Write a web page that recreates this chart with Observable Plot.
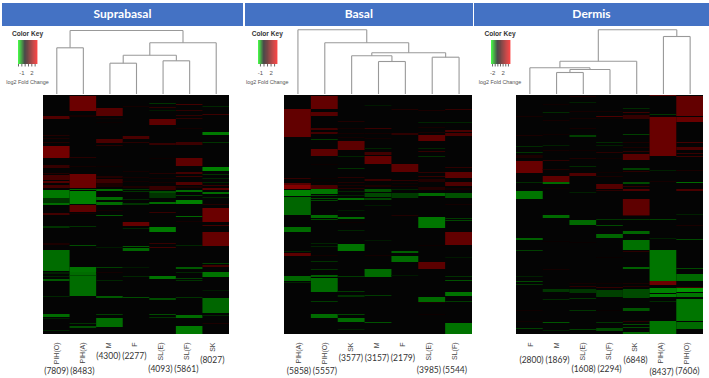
<!DOCTYPE html>
<html><head><meta charset="utf-8">
<script src="https://cdn.jsdelivr.net/npm/d3@7"></script>
<script src="https://cdn.jsdelivr.net/npm/@observablehq/plot@0.6"></script>
<style>
html,body{margin:0;padding:0;background:#fff;width:709px;height:378px;overflow:hidden}
#root{position:relative;width:709px;height:378px}
#root>div,#root>svg,#root>figure{position:absolute;margin:0}
.head{background:#4472c4;color:#fff;font:700 12px Lato,sans-serif;text-align:center;line-height:22px;height:22.5px;top:3px}
.kt{font-family:"Liberation Sans",Arial,sans-serif;text-align:center;white-space:nowrap}
svg{display:block}
</style></head><body><div id="root"></div>
<script>
// ---------- Suprabasal ----------
const supraTitle = "Suprabasal";
const supraCats = ["PIH(O)","PIH(A)","M","F","SL(E)","SL(F)","SK"];
const supraCounts = ["(7809)","(8483)","(4300)","(2277)","(4093)","(5861)","(8027)"];
const supraKeyDomain = [-2,0,3.8];
const supraKeyLabels = [-1,2];
const supraMerges = [[0,1,46.7],[2,3,31.3],[4,5,33.7],[8,9,39.3],[10,6,51.7],[7,11,64]];
const supra0 = [[21,24,1.2],[40,41,.5],[43,44,.4],[47,48,.5],[51,63,1.7],[70,73,.8],[78,79,.5],[80,85,1],[86,88,1.2],[90,93,1],[95,103,-.95],[103,108,-.4],[108,110,-.85],[118,120,1],[131,133,-.4],[148,150,.4],[155,176,-.85],[177,179,-.25],[181,182,-.3],[184,186,-.7],[201,202,-.3],[219,222,-.85],[223,224,-.25],[235,236,-.3]];
const supra1 = [[1,16,1.6],[20,22,.3],[62,63,.6],[71,72,.3],[79,93,1.6],[94,95,-.8],[96,109,-1],[110,117,1.4],[118,119,.3],[131,132,-.4],[150,151,-.6],[172,177,-.9],[177,201,-.85],[180,181,-.6],[228,229,-.4],[231,233,-.6]];
const supra2 = [[13,21,1.3],[23,24,.3],[27,28,.2],[44,48,1.1],[50,51,.6],[71,72,.2],[81,83,.5],[84,88,.9],[88,92,.4],[94,96,-.85],[102,105,-.85],[107,110,-.85],[115,116,.3],[120,121,-.7],[152,153,-.2],[172,173,-.5],[177,178,.3],[185,186,-.3],[201,203,-.7],[219,220,-.5],[223,232,-.85]];
const supra3 = [[11,12,.3],[41,44,1.1],[47,48,.6],[76,77,.3],[82,83,.3],[86,87,.3],[91,93,.4],[94,95,-.4],[96,97,-.4],[104,105,-.3],[108,110,-.4],[127,131,1.5],[133,134,-.3],[151,152,-.7],[153,156,-.8],[172,173,-.2],[181,182,-.3],[202,203,-.6]];
const supra4 = [[8,9,-.4],[12,13,.7],[15,16,-.2],[24,30,1.4],[48,50,.8],[63,64,.2],[78,79,.5],[83,84,.3],[87,88,.3],[91,95,.8],[96,98,-.6],[98,103,-.4],[107,109,-.85],[117,118,.8],[132,137,-.95],[148,149,.8],[152,153,1],[181,184,-.9],[203,205,-.6],[219,220,-.6],[222,223,-.4]];
const supra5 = [[9,10,1],[15,16,.7],[20,21,.7],[23,24,.7],[33,34,.3],[47,50,.9],[63,71,1.4],[77,79,1],[81,82,.9],[87,90,1.2],[91,93,.4],[95,97,-.85],[100,101,-.5],[105,109,-1],[121,122,-.8],[126,127,.3],[150,151,-.3],[172,174,-.7],[177,178,-.3],[183,184,-.5],[185,186,-.4],[202,203,-.4],[220,223,-.85],[231,239,-.95]];
const supra6 = [[11,12,-.3],[19,20,.9],[37,40,-.95],[47,48,-.4],[72,76,-1],[79,80,-.4],[83,84,-.3],[87,88,-.3],[90,91,.8],[93,95,1.3],[97,99,-.85],[102,103,-.3],[109,110,.5],[113,127,1.6],[130,131,1],[137,151,1.5],[168,169,-.5],[170,172,1],[177,182,-.9],[195,196,-.2],[203,218,-.8],[220,221,-.3],[228,229,.4]];

// ---------- Basal ----------
const basalTitle = "Basal";
const basalCats = ["PIH(A)","PIH(O)","SK","M","F","SL(E)","SL(F)"];
const basalCounts = ["(5858)","(5557)","(3577)","(3157)","(2179)","(3985)","(5544)"];
const basalKeyDomain = [-1.55,0,3.9];
const basalKeyLabels = [-1,2];
const basalMerges = [[3,4,33],[2,7,38.7],[5,6,37.3],[8,9,41.7],[1,10,51.7],[0,11,64.7]];
const basal0 = [[14,42,1.5],[83,84,.8],[88,90,1.3],[90,94,2],[95,101,-.8],[102,120,-.62],[132,137,-.65],[156,157,-.22],[158,161,1.4],[181,186,-.62],[187,188,-.22]];
const basal1 = [[1,14,1.5],[17,21,1.3],[33,35,1],[37,39,1],[44,45,-.36],[54,61,1.4],[69,70,.2],[83,84,.2],[87,88,.2],[90,94,1.1],[94,99,-.72],[100,101,-.43],[103,104,-.43],[105,106,-.43],[120,123,-.65],[124,125,-.43],[148,149,-.22],[151,152,-.22],[160,161,.3],[166,167,-.3],[174,175,-.3],[180,182,-.58],[183,197,-.65],[206,207,-.36],[219,223,-.65]];
const basal2 = [[26,27,.5],[33,34,.3],[38,39,.3],[42,43,.3],[46,55,1.4],[61,62,-.22],[73,74,-.3],[82,83,.6],[87,88,.5],[90,91,.4],[93,94,.6],[96,97,-.22],[100,101,-.22],[103,105,-.65],[115,116,-.15],[122,124,-.65],[127,128,.2],[135,136,-.22],[149,156,-.7],[181,182,-.36],[196,197,-.36],[200,202,-.3],[219,220,-.43],[223,227,-.65],[234,235,-.18]];
const basal3 = [[10,11,-.15],[33,34,.9],[38,39,.3],[43,44,.3],[53,54,-.22],[57,60,1],[61,69,1.5],[84,86,.9],[90,92,.4],[94,97,-.5],[98,102,-.43],[103,105,-.43],[110,111,-.15],[145,146,-.15],[160,161,.3],[174,182,-.65],[200,201,-.36],[227,228,-.5]];
const basal4 = [[14,15,.5],[38,40,.7],[69,77,1.4],[85,86,.7],[88,89,.3],[91,92,.3],[94,95,-.22],[98,103,-.36],[120,121,.5],[156,158,-.58],[161,167,-.65],[180,181,-.15]];
const basal5 = [[15,16,.4],[27,28,-.22],[32,33,.3],[37,38,.4],[40,46,1.4],[53,54,-.22],[56,57,.8],[61,62,-.3],[77,78,.7],[81,82,.8],[84,87,.5],[92,95,.5],[98,101,-.65],[122,133,-.72],[150,151,.2],[167,174,1.4],[202,207,-.65],[207,208,.4],[219,220,.2]];
const basal6 = [[14,15,.8],[27,28,-.22],[35,37,1.1],[38,41,1.1],[72,73,.7],[77,83,1.4],[87,91,1.2],[93,95,.3],[98,103,-.5],[109,110,.3],[123,124,-.36],[125,126,-.43],[137,150,1.5],[162,163,-.15],[181,182,-.3],[185,186,-.5],[197,201,-.7],[206,207,-.36],[228,239,-.7]];

// ---------- Dermis ----------
const dermisTitle = "Dermis";
const dermisCats = ["F","M","SL(E)","SL(F)","SK","PIH(A)","PIH(O)"];
const dermisCounts = ["(2800)","(1869)","(1608)","(2294)","(6848)","(8437)","(7606)"];
const dermisKeyDomain = [-2.4,0,4.9];
const dermisKeyLabels = [-2,2];
const dermisMerges = [[1,2,22],[7,3,25],[0,8,26.7],[9,4,33.3],[5,6,58],[10,11,64.7]];
const dermis0 = [[21,22,.4],[40,41,.5],[51,52,-.4],[57,58,-.5],[60,63,.5],[66,78,2],[87,88,-.4],[96,104,-1.1],[143,145,-.9],[155,156,-.6],[181,182,-.3],[186,187,-.7],[189,190,-.5],[215,216,.3],[226,227,.3],[233,234,-.6]];
const dermis1 = [[9,10,.3],[17,18,-.4],[25,26,.4],[39,40,.3],[50,51,-.3],[55,56,.4],[65,66,.9],[74,75,.6],[81,87,1.8],[87,89,-1],[93,94,.3],[120,123,-1],[146,147,.2],[174,175,.4],[194,197,-.5],[204,205,-.4],[227,228,-.8],[235,236,-.3]];
const dermis2 = [[1,2,.5],[7,8,-.3],[16,17,.4],[23,24,.4],[33,34,.4],[40,42,-.6],[55,56,.3],[63,64,.6],[71,72,-.4],[78,81,1.5],[97,98,-.3],[125,130,-1],[147,148,.2],[188,189,.4],[191,192,.8],[194,198,-.5],[203,204,-.5],[215,216,-.5],[234,235,-.6]];
const dermis3 = [[16,17,.4],[21,22,1.5],[23,24,.3],[47,48,-.4],[50,51,-.3],[57,58,.8],[63,64,.3],[77,78,.3],[81,82,.5],[89,94,1.6],[95,96,.8],[124,125,-.5],[130,131,-.7],[139,143,-.95],[162,163,.2],[188,189,.3],[192,193,1],[195,202,-.6],[215,216,.2],[227,228,-.5],[233,236,-.7]];
const dermis4 = [[13,14,-.4],[17,18,1.2],[20,24,1],[39,40,-.6],[47,48,.5],[52,53,.5],[56,57,.9],[59,65,1.7],[73,75,-.6],[76,77,.8],[87,89,-.7],[91,92,.9],[94,96,1.5],[104,120,1.8],[120,121,.9],[124,125,-.5],[136,139,-.95],[145,155,-1.05],[156,157,.8],[172,174,-.9],[188,189,.5],[191,192,.7],[194,203,-.7],[213,216,-.8],[226,227,.8],[229,230,-.7],[232,233,-.7],[237,239,-.95]];
const dermis5 = [[0,1,1.5],[19,20,-.5],[22,61,2],[75,76,-.3],[86,87,.4],[124,125,-.6],[143,144,-.3],[155,186,-1.1],[186,190,2.1],[193,198,-1.2],[199,202,-1.2],[206,207,-.4],[226,239,-1.1]];
const dermis6 = [[1,21,1.9],[22,27,2],[47,48,1.3],[52,55,1.4],[58,59,1.1],[61,62,1.2],[75,76,.5],[87,88,-1],[94,96,1.4],[119,120,-.3],[130,131,.5],[144,145,-.7],[173,174,-.7],[179,186,-1],[192,193,1.2],[193,197,-1.4],[198,202,-1.1],[204,226,-1.1],[227,234,-1]];

const rowCount = 239;
const keyRange = ["#00ff00","#000000","#ff0000"];

// Layout only (not data)
const heatTop = 95, heatH = 239, dendroTop = 20, dendroH = 74, labelTop = 338, labelH = 40;
const panels = [
 {title:supraTitle,cats:supraCats,counts:supraCounts,keyDomain:supraKeyDomain,keyLabels:supraKeyLabels,merges:supraMerges,
  cols:[supra0,supra1,supra2,supra3,supra4,supra5,supra6],head:[2,241],heat:[43.3,229.3],key:[18,37.3],keyC:27.5,countRows:[33,33,18,18,31,31,22],nudge:-2.2},
 {title:basalTitle,cats:basalCats,counts:basalCounts,keyDomain:basalKeyDomain,keyLabels:basalKeyLabels,merges:basalMerges,
  cols:[basal0,basal1,basal2,basal3,basal4,basal5,basal6],head:[244.5,228.5],heat:[283.5,471.5],key:[258,277.3],keyC:267.3,countRows:[33,33,20,20,20,32,32],nudge:-1.6},
 {title:dermisTitle,cats:dermisCats,counts:dermisCounts,keyDomain:dermisKeyDomain,keyLabels:dermisKeyLabels,merges:dermisMerges,
  cols:[dermis0,dermis1,dermis2,dermis3,dermis4,dermis5,dermis6],head:[474,235],heat:[516,703],key:[490.7,510],keyC:500,countRows:[22,22,31,31,22,34,33],nudge:-1}
];

const root = document.getElementById("root");
function place(node,left,top){ node.style.position="absolute"; node.style.left=left+"px"; node.style.top=top+"px"; root.appendChild(node); return node; }
function html(cls,txt,css){ const d=document.createElement("div"); d.className=cls; d.textContent=txt; d.style.cssText=css; root.appendChild(d); return d; }

for (const p of panels) {
  const [hx0,hx1] = p.heat, W = hx1-hx0;
  const colorOpts = {type:"linear",domain:p.keyDomain,range:keyRange};

  // header
  html("head",p.title,`left:${p.head[0]}px;width:${p.head[1]}px`);

  // heatmap
  const stripes = p.cols.flatMap((col,i)=>col.map(([a,b,v])=>({i,a,b,v})));
  const heat = place(Plot.plot({width:W,height:heatH,margin:0,
    style:{background:"#040404"},
    x:{domain:[0,7],range:[0,W],axis:null},
    y:{domain:[0,rowCount],range:[0,heatH],axis:null},
    color:colorOpts,
    marks:[
      Plot.rect(stripes,{x1:"i",x2:d=>d.i+1,y1:"a",y2:"b",fill:"v"})
    ]}),hx0,heatTop);
  heat.style.filter = "blur(0.45px)";

  // dendrogram
  const nodes = p.cats.map((c,i)=>({x:i+.5,h:0}));
  const segs = [];
  for (const [a,b,h] of p.merges) {
    const A=nodes[a],B=nodes[b];
    segs.push({x1:A.x,y1:A.h,x2:A.x,y2:h},{x1:B.x,y1:B.h,x2:B.x,y2:h},{x1:A.x,y1:h,x2:B.x,y2:h});
    nodes.push({x:(A.x+B.x)/2,h});
  }
  place(Plot.plot({width:W,height:dendroH,margin:0,
    x:{domain:[0,7],range:[0,W],axis:null},
    y:{domain:[0,dendroH],range:[dendroH,0],axis:null},
    marks:[Plot.link(segs,{x1:"x1",y1:"y1",x2:"x2",y2:"y2",stroke:"#999",strokeWidth:1.1})]}),hx0,dendroTop);

  // column names and counts
  const rows = p.cats.map((c,i)=>({c,n:p.counts[i],r:p.countRows[i]}));
  place(Plot.plot({width:W,height:labelH,margin:0,
    x:{type:"band",domain:p.cats,range:[0,W],padding:0,axis:null},
    y:{domain:[0,labelH],range:[0,labelH],axis:null},
    marks:[
      Plot.text(rows,{x:"c",y:4,text:"c",rotate:-90,textAnchor:"end",dx:-2,fontFamily:"Liberation Sans,Arial,sans-serif",fontSize:7,fill:"#444"}),
      Plot.text(rows,{x:"c",y:"r",text:"n",dx:p.nudge,fontFamily:"Lato,sans-serif",fontSize:8.5,fill:"#333"})
    ]}),hx0,labelTop);

  // colour key
  const [k0,,k1] = p.keyDomain;
  const steps = d3.range(0,60).map(i=>k0+(k1-k0)*i/60);
  const step = (k1-k0)/60;
  const kw = p.key[1]-p.key[0];
  const keyTicks = d3.range(Math.ceil(k0),Math.floor(k1)+1);
  place(Plot.plot({width:kw+20,height:36,marginTop:0,marginBottom:12,marginLeft:10,marginRight:10,
    x:{domain:[k0,k1],range:[10,10+kw]},
    y:{axis:null},
    color:colorOpts,
    style:{fontFamily:"Liberation Sans,Arial,sans-serif",color:"#555"},
    marks:[Plot.rect(steps,{x1:d=>d,x2:d=>d+step*1.05,fill:d=>d}),
           Plot.axisX({ticks:keyTicks,tickSize:2.5,tickPadding:3.5,label:null,tickFormat:d=>p.keyLabels.includes(d)?String(d):"",fontSize:6,fill:"#555",stroke:"#666"})]}),p.key[0]-10,40);
  html("kt","Color Key",`left:${p.keyC-30}px;width:60px;top:30px;font-size:6.6px;font-weight:700;color:#333`);
  html("kt","log2 Fold Change",`left:${p.keyC-30}px;width:60px;top:79px;font-size:5.4px;color:#555`);
}
</script></body></html>
